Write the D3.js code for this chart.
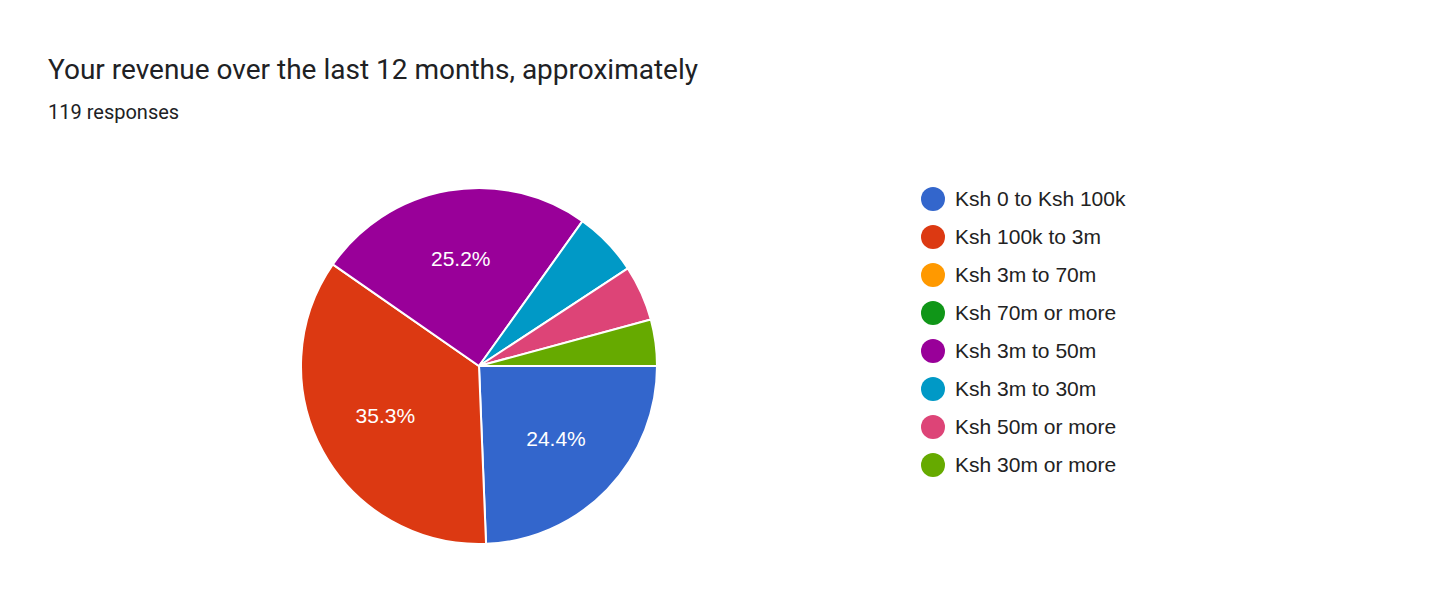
<!DOCTYPE html>
<html>
<head>
<meta charset="utf-8">
<script src="https://cdn.jsdelivr.net/npm/d3@7"></script>
<style>body{margin:0;background:#fff;font-family:Roboto,Arial,sans-serif}</style>
</head>
<body>
<div id="chart"></div>
<script>
const categories = ["Ksh 0 to Ksh 100k", "Ksh 100k to 3m", "Ksh 3m to 70m", "Ksh 70m or more",
  "Ksh 3m to 50m", "Ksh 3m to 30m", "Ksh 50m or more", "Ksh 30m or more"]
const counts = [29, 42, 0, 0, 30, 7, 6, 5]
const colors = ["#3366cc", "#dc3912", "#ff9900", "#109618", "#990099", "#0099c6", "#dd4477", "#66aa00"]

const width = 1456, height = 615
const svg = d3.select("#chart").append("svg")
    .attr("width", width)
    .attr("height", height)

svg.append("text").attr("x", 48).attr("y", 79)
    .attr("font-size", 28).attr("fill", "#202124").text("Your revenue over the last 12 months, approximately")
svg.append("text").attr("x", 48).attr("y", 119)
    .attr("font-size", 20).attr("fill", "#202124").text("119 responses")

const data = categories.map((c, i) => ({name: c, value: counts[i], color: colors[i]}))
const total = d3.sum(counts)
const radius = 178

const pie = d3.pie().sort(null).value(d => d.value)
    .startAngle(Math.PI / 2).endAngle(Math.PI / 2 + 2 * Math.PI)
const arc = d3.arc().innerRadius(0).outerRadius(radius)
const labelArc = d3.arc().innerRadius(radius * 0.6).outerRadius(radius * 0.6)

const g = svg.append("g").attr("transform", "translate(479,366)")
const arcs = pie(data).filter(d => d.data.value > 0)

g.selectAll("path").data(arcs).enter().append("path")
    .attr("d", arc)
    .attr("fill", d => d.data.color)
    .attr("stroke", "#fff")
    .attr("stroke-width", 2)

g.selectAll("text").data(arcs.filter(d => d.data.value / total > 0.1)).enter().append("text")
    .attr("transform", d => "translate(" + labelArc.centroid(d) + ")")
    .attr("text-anchor", "middle")
    .attr("dominant-baseline", "middle")
    .attr("font-family", "Arial, 'Liberation Sans', sans-serif")
    .attr("font-size", 21)
    .attr("fill", "#fff")
    .text(d => (d.data.value / total * 100).toFixed(1) + "%")

// legend
const legend = svg.append("g").attr("transform", "translate(933,199)")
const rows = legend.selectAll("g").data(data).enter().append("g")
    .attr("transform", (d, i) => "translate(0," + i * 38 + ")")
rows.append("circle").attr("r", 12).attr("fill", d => d.color)
rows.append("text").attr("x", 22).attr("y", 1)
    .attr("dominant-baseline", "middle")
    .attr("font-family", "Arial, 'Liberation Sans', sans-serif")
    .attr("font-size", 21).attr("fill", "#222")
    .text(d => d.name)
</script>
</body>
</html>
